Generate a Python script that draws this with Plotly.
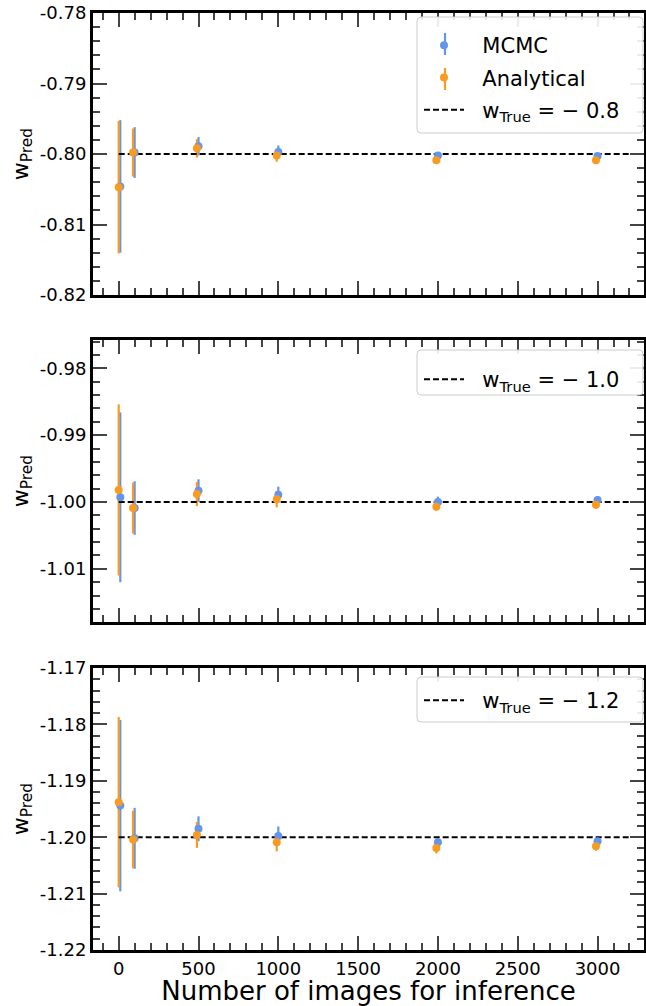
import plotly.graph_objects as go
from plotly.subplots import make_subplots

# ---------------- data ----------------
n_images = [10, 100, 500, 1000, 2000, 3000]
analytical_dodge = 10  # analytical points drawn slightly left of MCMC

w_true = [-0.8, -1.0, -1.2]
w_true_text = ["0.8", "1.0", "1.2"]

mcmc_1 = [-0.8046, -0.7998, -0.7989, -0.7997, -0.8002, -0.8003]
mcmc_err_1 = [0.0094, 0.0036, 0.0013, 0.0009, 0.0004, 0.0004]
ana_1 = [-0.8047, -0.7998, -0.7992, -0.8002, -0.8009, -0.8009]
ana_err_1 = [0.0094, 0.0034, 0.0013, 0.0009, 0.0005, 0.0004]

mcmc_2 = [-0.9993, -1.0009, -0.9983, -0.9989, -1.0000, -0.9997]
mcmc_err_2 = [0.0127, 0.0040, 0.0017, 0.0012, 0.0008, 0.0006]
ana_2 = [-0.9982, -1.0009, -0.9988, -0.9996, -1.0007, -1.0004]
ana_err_2 = [0.0128, 0.0038, 0.0018, 0.0012, 0.0006, 0.0006]

mcmc_3 = [-1.1944, -1.2002, -1.1985, -1.1998, -1.2009, -1.2007]
mcmc_err_3 = [0.0152, 0.0054, 0.0022, 0.0017, 0.0010, 0.0008]
ana_3 = [-1.1938, -1.2004, -1.1996, -1.2009, -1.2019, -1.2016]
ana_err_3 = [0.0151, 0.0051, 0.0023, 0.0016, 0.0010, 0.0008]

true_line_x = [0, 3200]

x_ticks = [0, 500, 1000, 1500, 2000, 2500, 3000]
x_ticklabels = ["0", "500", "1000", "1500", "2000", "2500", "3000"]

y_ticks_1 = [-0.82, -0.81, -0.80, -0.79, -0.78]
y_labels_1 = ["-0.82", "-0.81", "-0.80", "-0.79", "-0.78"]
y_ticks_2 = [-1.01, -1.00, -0.99, -0.98]
y_labels_2 = ["-1.01", "-1.00", "-0.99", "-0.98"]
y_ticks_3 = [-1.22, -1.21, -1.20, -1.19, -1.18, -1.17]
y_labels_3 = ["-1.22", "-1.21", "-1.20", "-1.19", "-1.18", "-1.17"]

y_ranges = [[-0.82, -0.78], [-1.01795, -0.97576], [-1.22, -1.17]]

# ---------------- style / layout ----------------
BLUE = "#6495ED"
ORANGE = "#F99B20"
FONT = "DejaVu Sans"
W, H = 646, 1006
ML, MR, MT, MB = 93, 2, 13, 56
PW, PH = W - ML - MR, H - MT - MB


def px_x(px):
    return (px - ML) / PW


def px_y(py):
    return (H - MB - py) / PH


panels = [
    (mcmc_1, mcmc_err_1, ana_1, ana_err_1, y_ticks_1, y_labels_1),
    (mcmc_2, mcmc_err_2, ana_2, ana_err_2, y_ticks_2, y_labels_2),
    (mcmc_3, mcmc_err_3, ana_3, ana_err_3, y_ticks_3, y_labels_3),
]

fig = make_subplots(rows=3, cols=1, shared_xaxes=True, vertical_spacing=0.05)

legend_names = ["legend", "legend2", "legend3"]
x_ana = [v - analytical_dodge for v in n_images]
NB = "\u00a0\u00a0"

for i, (m, me, a, ae, yt, yl) in enumerate(panels):
    row = i + 1
    fig.add_trace(go.Scatter(
        x=n_images, y=m, mode="markers",
        marker=dict(color=BLUE, size=8, opacity=0),
        error_y=dict(type="data", array=me, visible=True, color=BLUE,
                     thickness=2.2, width=0),
        showlegend=False, hoverinfo="skip"), row=row, col=1)
    fig.add_trace(go.Scatter(
        x=x_ana, y=a, mode="markers",
        marker=dict(color=ORANGE, size=8, opacity=0),
        error_y=dict(type="data", array=ae, visible=True, color=ORANGE,
                     thickness=2.2, width=0),
        showlegend=False, hoverinfo="skip"), row=row, col=1)
    fig.add_trace(go.Scatter(
        x=true_line_x, y=[w_true[i]] * 2, mode="lines",
        line=dict(color="black", width=2, dash="6px,3px"),
        name=NB + "w<sub>True</sub> = \u2212 " + w_true_text[i],
        legend=legend_names[i], legendrank=3, legendgroup="t%d" % i,
        showlegend=True), row=row, col=1)
    fig.add_trace(go.Scatter(
        x=n_images, y=m, mode="markers",
        marker=dict(color=BLUE, size=8),
        name=NB + "MCMC", legend=legend_names[i], legendrank=1,
        legendgroup="m%d" % i, showlegend=(i == 0)), row=row, col=1)
    fig.add_trace(go.Scatter(
        x=x_ana, y=a, mode="markers",
        marker=dict(color=ORANGE, size=8),
        name=NB + "Analytical", legend=legend_names[i], legendrank=2,
        legendgroup="a%d" % i, showlegend=(i == 0)), row=row, col=1)

    fig.update_yaxes(
        row=row, col=1, automargin=False,
        range=y_ranges[i], tickmode="array", tickvals=yt, ticktext=yl,
        showline=True, linewidth=3, linecolor="black", mirror="allticks",
        ticks="inside", ticklen=14, tickwidth=2, tickcolor="#444",
        minor=dict(tick0=-1.0, dtick=0.002, ticks="inside", ticklen=7,
                   tickwidth=1.5, tickcolor="#444"),
        showgrid=False, zeroline=False,
        tickfont=dict(family=FONT, size=18, color="black"),
        title=dict(text="w<sub>Pred</sub>", standoff=6,
                   font=dict(family=FONT, size=22, color="black")),
    )
    fig.update_xaxes(
        row=row, col=1, automargin=False,
        range=[-161, 3291], tickmode="array", tickvals=x_ticks, ticktext=x_ticklabels,
        showline=True, linewidth=3, linecolor="black", mirror="allticks",
        ticks="inside", ticklen=14, tickwidth=2, tickcolor="#444",
        minor=dict(tick0=0, dtick=100, ticks="inside", ticklen=7,
                   tickwidth=1.5, tickcolor="#444"),
        showgrid=False, zeroline=False,
        showticklabels=(row == 3),
        tickfont=dict(family=FONT, size=18, color="black"),
    )

fig.update_xaxes(row=3, col=1,
                 title=dict(text="Number of images for inference", standoff=1,
                            font=dict(family=FONT, size=26, color="black")))

fig.update_layout(
    yaxis=dict(domain=[px_y(295), 1.0]),
    yaxis2=dict(domain=[px_y(622), px_y(340)]),
    yaxis3=dict(domain=[0.0, px_y(668)]),
)


# legend boxes (drawn as shapes so they can hold the error-bar glyphs)
def rounded_box(x0, y0, x1, y1, r=4):
    X = px_x
    Y = px_y
    return ("M {a},{b} L {c},{b} Q {d},{b} {d},{e} L {d},{f} Q {d},{g} {c},{g} "
            "L {a},{g} Q {h},{g} {h},{f} L {h},{e} Q {h},{b} {a},{b} Z").format(
        a=X(x0 + r), b=Y(y0), c=X(x1 - r), d=X(x1), e=Y(y0 + r),
        f=Y(y1 - r), g=Y(y1), h=X(x0))


boxes = [(417, 17, 643, 133), (417, 350, 643, 395), (417, 677, 643, 722)]
shapes = []
for (x0, y0, x1, y1) in boxes:
    shapes.append(dict(type="path", path=rounded_box(x0, y0, x1, y1),
                       xref="paper", yref="paper", layer="above",
                       fillcolor="rgba(255,255,255,0.9)",
                       line=dict(color="#cccccc", width=1)))
# error-bar glyphs in the first legend
for (yc, col) in [(44, BLUE), (79, ORANGE)]:
    shapes.append(dict(type="line", xref="paper", yref="paper", layer="above",
                       x0=px_x(445), x1=px_x(445), y0=px_y(yc - 11), y1=px_y(yc + 11),
                       line=dict(color=col, width=2.2)))
fig.update_layout(shapes=shapes)

leg_common = dict(
    xanchor="left", x=px_x(419), yanchor="top",
    bgcolor="rgba(0,0,0,0)", borderwidth=0,
    font=dict(family=FONT, size=21, color="black"),
    itemwidth=40, tracegroupgap=2,
)
fig.update_layout(
    legend=dict(y=px_y(25), **leg_common),
    legend2=dict(y=px_y(359), **leg_common),
    legend3=dict(y=px_y(680), **leg_common),
)

fig.update_layout(
    width=W, height=H,
    margin=dict(l=ML, r=MR, t=MT, b=MB),
    paper_bgcolor="white", plot_bgcolor="white",
    font=dict(family=FONT, color="black"),
)

fig.write_html(
    "out.html",
    config={"displayModeBar": False},
    post_script="document.body.style.margin='0';document.body.style.overflow='hidden';",
)
